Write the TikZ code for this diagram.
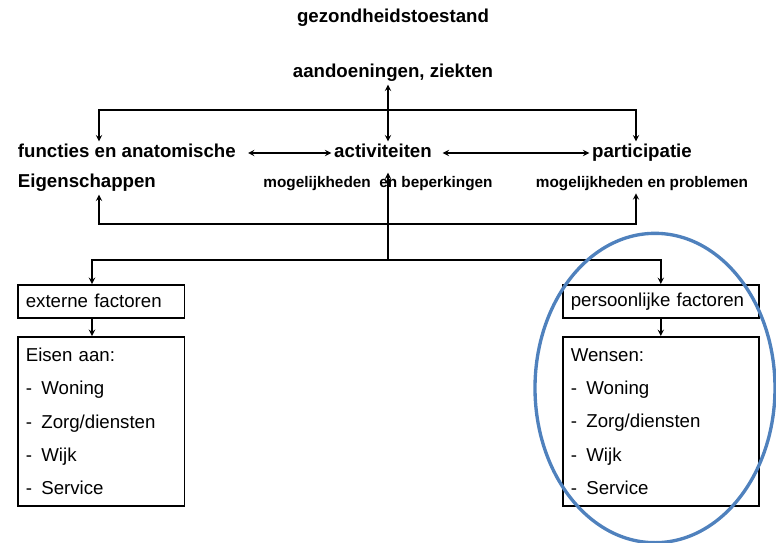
\documentclass[tikz,border=0pt]{standalone}
\usepackage{fontspec}
\setmainfont{Liberation Sans}
\usetikzlibrary{calc}
\definecolor{ovalblue}{RGB}{79,129,189}

\begin{document}
\begin{tikzpicture}[>=stealth, x=0.75pt, y=-0.75pt,
	lbl/.style={font=\fontsize{14}{16}\selectfont\bfseries, inner sep=2pt, text height=10pt, text depth=3pt},
	sub/.style={font=\fontsize{11.5}{13}\selectfont\bfseries, inner sep=2pt, text height=8.5pt, text depth=2.5pt},
	conn/.style={line width=1.1pt},
	hdr/.style={draw, line width=1.2pt, anchor=north west, align=left, inner xsep=6pt,
		font=\fontsize{14}{16}\selectfont, minimum height=24.75pt},
	lst/.style={draw, line width=1.2pt, anchor=north west, align=left, inner xsep=6pt,
		font=\fontsize{14}{25}\selectfont, minimum height=127pt}]
\useasboundingbox (0,0) rectangle (776,543);
\node (toestand) at (393,18) [lbl] {gezondheidstoestand};
\node (ziekten) at (393,73) [lbl] {aandoeningen, ziekten};
\node (functies) at (15,153) [lbl,anchor=west] {functies en anatomische};
\node (eigen) at (15,183) [lbl,anchor=west] {Eigenschappen};
\node (activiteiten) at (383,153) [lbl] {activiteiten};
\node (participatie) at (642,153) [lbl] {participatie};
\node (beperkingen) at (378,183) [sub] {mogelijkheden\ \ en beperkingen};
\node (problemen) at (642,183) [sub] {mogelijkheden en problemen};
\node (extern) at (17,284) [hdr,text width=113pt] {externe factoren};
\node (persoon) at (562,284) [hdr,text width=135pt] {persoonlijke factoren};
\node (eisen) at (17,336) [lst,text width=113pt] {Eisen aan:\\-\hspace{7pt}Woning\\-\hspace{7pt}Zorg/diensten\\-\hspace{7pt}Wijk\\-\hspace{7pt}Service};
\node (wensen) at (562,336) [lst,text width=135pt] {Wensen:\\-\hspace{7pt}Woning\\-\hspace{7pt}Zorg/diensten\\-\hspace{7pt}Wijk\\-\hspace{7pt}Service};
% junctions
\coordinate (hubA) at (388,110);
\coordinate (hubB) at (388,224);
\coordinate (hubC) at (388,260);
\coordinate (colL) at (99,0);
\coordinate (colR) at (636,0);
\coordinate (colX) at (92,0);
\draw [<->,conn] (ziekten.south -| hubA) -- (activiteiten.north -| hubA);
\draw [->,conn] (hubA) -| (functies.north -| colL);
\draw [->,conn] (hubA) -| (participatie.north -| colR);
\draw [<->,conn,shorten <=7pt] (functies) -- (activiteiten);
\draw [<->,conn,shorten <=6pt] (activiteiten) -- (participatie);
\draw [->,conn] (hubB) -| (eigen.south -| colL);
\draw [->,conn] (hubB) -| (problemen.south -| colR);
\draw [->,conn] (hubC) -- (beperkingen.north -| hubC);
\draw [->,conn] (hubC) -| (extern.north -| colX);
\draw [->,conn] (hubC) -| (persoon.north);
\draw [->,conn] (extern.south -| colX) -- (eisen.north -| colX);
\draw [->,conn] (persoon) -- (wensen);
\draw [ovalblue,line width=2.5pt] (655,388) ellipse [x radius=90pt, y radius=116pt];
\end{tikzpicture}
\end{document}
